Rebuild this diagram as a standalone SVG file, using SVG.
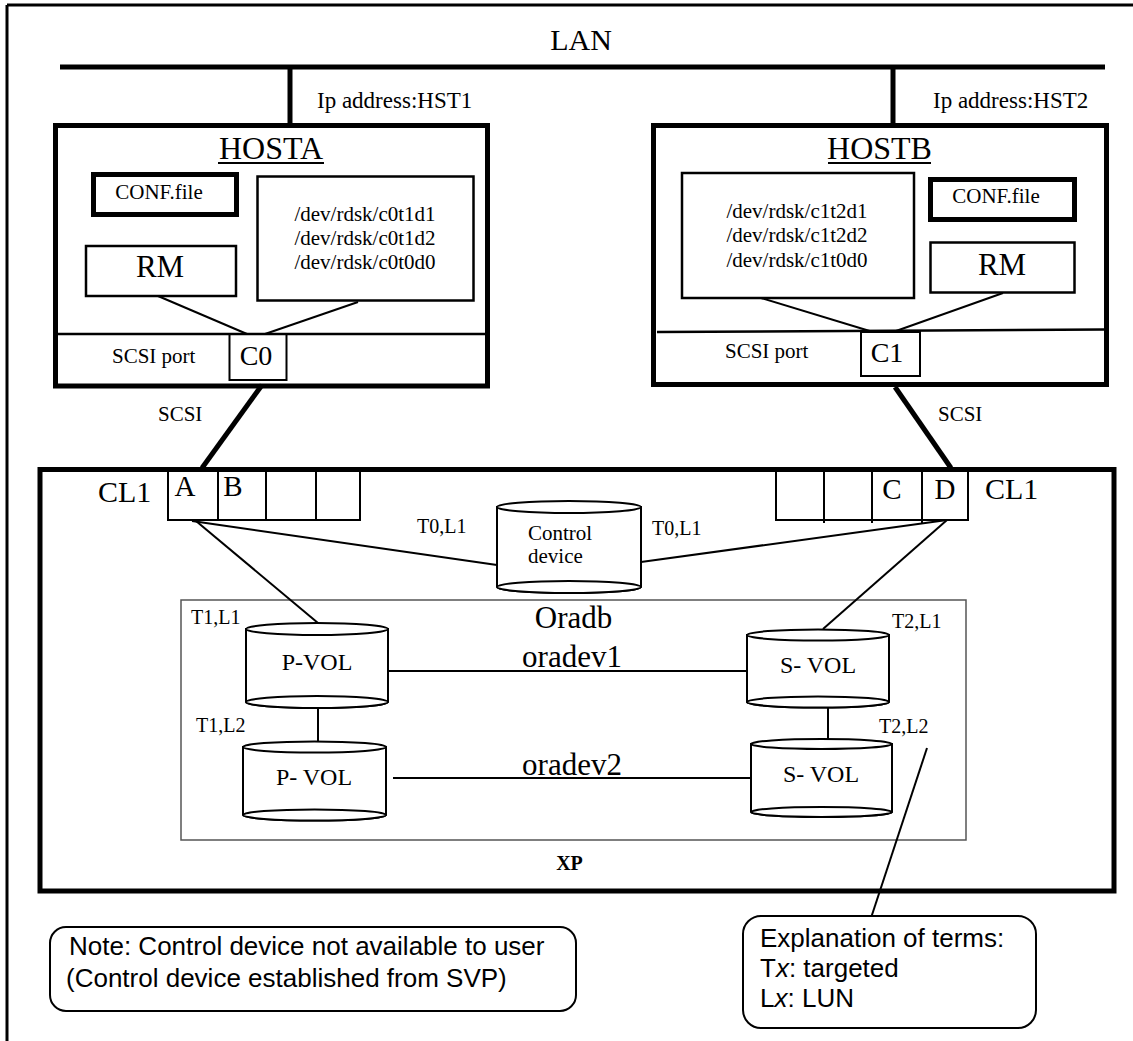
<svg xmlns="http://www.w3.org/2000/svg" width="1133" height="1041" viewBox="0 0 1133 1041">
  <style>
    .serif { font-family: "Liberation Serif", "Times New Roman", serif; fill: #000; }
    .sans { font-family: "Liberation Sans", Arial, sans-serif; fill: #000; }
    .mid { text-anchor: middle; }
    .thick { fill: none; stroke: #000; stroke-width: 5; }
    .box { fill: #fff; stroke: #000; stroke-width: 2.5; }
    .thin { fill: none; stroke: #000; stroke-width: 2; }
    .wire { fill: none; stroke: #000; stroke-width: 2; }
    .drum { fill: #fff; stroke: #000; stroke-width: 2; }
    .group-box { fill: none; stroke: #555; stroke-width: 1.5; }
    .note { fill: #fff; stroke: #000; stroke-width: 2; }
  </style>

  <rect x="0" y="0" width="1133" height="1041" fill="#fff"/>

  <!-- page frame (top and left rule) -->
  <g id="frame">
    <line x1="7" y1="5" x2="1133" y2="5" stroke="#000" stroke-width="3"/>
    <line x1="7" y1="5" x2="7" y2="1041" stroke="#000" stroke-width="3"/>
  </g>

  <!-- LAN backbone -->
  <g id="lan">
    <line x1="60" y1="67" x2="1105" y2="67" stroke="#000" stroke-width="5"/>
    <text class="serif mid" x="581" y="50" font-size="30">LAN</text>
  </g>

  <!-- HOSTA -->
  <g id="hosta">
    <rect class="thick" x="55.5" y="125.5" width="432" height="260.5"/>
    <text class="serif mid" x="271" y="159" font-size="32">HOSTA</text>
    <line x1="218" y1="163" x2="324" y2="163" stroke="#000" stroke-width="2"/>
    <rect class="thick" x="93.5" y="174.5" width="143" height="40"/>
    <text class="serif mid" x="159" y="199" font-size="21">CONF.file</text>
    <rect class="box" x="257.5" y="176.5" width="216" height="124"/>
    <text class="serif mid" x="365" y="221" font-size="21">/dev/rdsk/c0t1d1</text>
    <text class="serif mid" x="365" y="245" font-size="21">/dev/rdsk/c0t1d2</text>
    <text class="serif mid" x="365" y="269" font-size="21">/dev/rdsk/c0t0d0</text>
    <rect class="box" x="86" y="246" width="150" height="50"/>
    <text class="serif mid" x="160" y="277" font-size="31">RM</text>
    <line x1="58" y1="334" x2="485" y2="334" stroke="#000" stroke-width="2.5"/>
    <text class="serif" x="112" y="363" font-size="21">SCSI port</text>
    <rect class="thin" x="229.5" y="334" width="57" height="46"/>
    <text class="serif mid" x="256" y="365" font-size="28">C0</text>
  </g>

  <!-- HOSTB -->
  <g id="hostb">
    <rect class="thick" x="653.5" y="125.5" width="453" height="259"/>
    <text class="serif mid" x="879.5" y="159" font-size="32">HOSTB</text>
    <line x1="828" y1="163" x2="931" y2="163" stroke="#000" stroke-width="2"/>
    <rect class="box" x="682" y="173" width="232" height="125"/>
    <text class="serif mid" x="797" y="218" font-size="21">/dev/rdsk/c1t2d1</text>
    <text class="serif mid" x="797" y="242" font-size="21">/dev/rdsk/c1t2d2</text>
    <text class="serif mid" x="797" y="267" font-size="21">/dev/rdsk/c1t0d0</text>
    <rect class="thick" x="930.5" y="179.5" width="144" height="40"/>
    <text class="serif mid" x="996" y="203" font-size="21">CONF.file</text>
    <rect class="box" x="930.5" y="242.5" width="144" height="50"/>
    <text class="serif mid" x="1002" y="275" font-size="31">RM</text>
    <line x1="657" y1="332" x2="1104" y2="329.5" stroke="#000" stroke-width="2.5"/>
    <text class="serif" x="725" y="358" font-size="21">SCSI port</text>
    <rect class="thin" x="861" y="332" width="59" height="44"/>
    <text class="serif mid" x="887" y="362" font-size="28">C1</text>
  </g>

  <!-- XP storage frame -->
  <g id="xp">
    <rect class="thick" x="40" y="469.5" width="1074" height="421.5"/>
    <text class="serif mid" x="569.5" y="870" font-size="20" font-weight="bold">XP</text>
  </g>

  <!-- left port block CL1 -->
  <g id="ports-left">
    <rect class="thin" x="168" y="469.5" width="192" height="50.5"/>
    <line class="thin" x1="218" y1="469.5" x2="218" y2="520"/>
    <line class="thin" x1="266" y1="469.5" x2="266" y2="520"/>
    <line class="thin" x1="316" y1="469.5" x2="316" y2="520"/>
    <text class="serif" x="98" y="502" font-size="30">CL1</text>
    <text class="serif mid" x="185" y="496" font-size="29">A</text>
    <text class="serif mid" x="233" y="496" font-size="29">B</text>
  </g>

  <!-- right port block CL1 -->
  <g id="ports-right">
    <rect class="thin" x="776" y="469.5" width="192" height="50.5"/>
    <line class="thin" x1="824" y1="469.5" x2="824" y2="523"/>
    <line class="thin" x1="872" y1="469.5" x2="872" y2="523"/>
    <line class="thin" x1="922" y1="469.5" x2="922" y2="523"/>
    <text class="serif mid" x="892" y="499" font-size="29">C</text>
    <text class="serif mid" x="945" y="499" font-size="29">D</text>
    <text class="serif" x="985" y="499" font-size="30">CL1</text>
  </g>

  <!-- Oradb group -->
  <g id="oradb">
    <rect class="group-box" x="181" y="600" width="785" height="240"/>
    <text class="serif mid" x="573.5" y="628" font-size="31">Oradb</text>
  </g>

  <!-- connectors -->
  <g id="connectors">
    <line x1="290" y1="67" x2="290" y2="125" stroke="#000" stroke-width="5"/>
    <line x1="893" y1="67" x2="893" y2="125" stroke="#000" stroke-width="5"/>
    <line class="wire" x1="158" y1="296" x2="247" y2="334"/>
    <line class="wire" x1="358" y1="302" x2="265" y2="334"/>
    <line class="wire" x1="761" y1="298" x2="873" y2="332"/>
    <line class="wire" x1="1003" y1="293" x2="896" y2="331"/>
    <line x1="262" y1="385" x2="202" y2="468" stroke="#000" stroke-width="5"/>
    <line x1="895" y1="387" x2="951" y2="468" stroke="#000" stroke-width="5"/>
    <line class="wire" x1="192" y1="521" x2="497" y2="565"/>
    <line class="wire" x1="196" y1="521" x2="318" y2="623"/>
    <line class="wire" x1="947" y1="520" x2="641" y2="562"/>
    <line class="wire" x1="947" y1="520" x2="823" y2="629"/>
    <line class="wire" x1="388" y1="671" x2="747" y2="671"/>
    <line class="wire" x1="393" y1="778" x2="751" y2="778"/>
    <line class="wire" x1="318" y1="708" x2="318" y2="742"/>
    <line class="wire" x1="828" y1="708" x2="828" y2="739"/>
    <line class="wire" x1="927" y1="748" x2="870" y2="921"/>
  </g>

  <!-- control device -->
  <g id="control-device">
    <path class="drum" d="M497 507 V587 A72 6 0 0 0 641 587 V507 Z"/>
    <ellipse class="drum" cx="569" cy="507" rx="72" ry="6"/>
    <ellipse class="drum" cx="569" cy="587" rx="72" ry="6"/>
    <text class="serif" x="528" y="540" font-size="21">Control</text>
    <text class="serif" x="528" y="563" font-size="21">device</text>
  </g>

  <!-- primary volumes -->
  <g id="pvol1">
    <path class="drum" d="M246 629 V702 A71 6 0 0 0 388 702 V629 Z"/>
    <ellipse class="drum" cx="317" cy="629" rx="71" ry="6"/>
    <ellipse class="drum" cx="317" cy="702" rx="71" ry="6"/>
    <text class="serif mid" x="317" y="670" font-size="24">P-VOL</text>
  </g>
  <g id="pvol2">
    <path class="drum" d="M243 747 V815 A71.5 5.5 0 0 0 386 815 V747 Z"/>
    <ellipse class="drum" cx="314.5" cy="747" rx="71.5" ry="5.5"/>
    <ellipse class="drum" cx="314.5" cy="815" rx="71.5" ry="5.5"/>
    <text class="serif mid" x="314" y="785" font-size="24">P- VOL</text>
  </g>

  <!-- secondary volumes -->
  <g id="svol1">
    <path class="drum" d="M747 635 V702 A71 5.5 0 0 0 889 702 V635 Z"/>
    <ellipse class="drum" cx="818" cy="635" rx="71" ry="5.5"/>
    <ellipse class="drum" cx="818" cy="702" rx="71" ry="5.5"/>
    <text class="serif mid" x="818" y="673" font-size="24">S- VOL</text>
  </g>
  <g id="svol2">
    <path class="drum" d="M751 744 V812 A70.5 5 0 0 0 892 812 V744 Z"/>
    <ellipse class="drum" cx="821.5" cy="744" rx="70.5" ry="5"/>
    <ellipse class="drum" cx="821.5" cy="812" rx="70.5" ry="5"/>
    <text class="serif mid" x="821" y="782" font-size="24">S- VOL</text>
  </g>

  <!-- labels -->
  <g id="labels">
    <text class="serif" x="317" y="108" font-size="23">Ip address:HST1</text>
    <text class="serif" x="933" y="108" font-size="23">Ip address:HST2</text>
    <text class="serif" x="158" y="421" font-size="21">SCSI</text>
    <text class="serif" x="938" y="421" font-size="21">SCSI</text>
    <text class="serif" x="417" y="533" font-size="20">T0,L1</text>
    <text class="serif" x="652" y="535" font-size="20">T0,L1</text>
    <text class="serif" x="191" y="624" font-size="20">T1,L1</text>
    <text class="serif" x="196" y="732" font-size="20">T1,L2</text>
    <text class="serif" x="892" y="628" font-size="20">T2,L1</text>
    <text class="serif" x="879" y="733" font-size="20">T2,L2</text>
    <text class="serif mid" x="572" y="667" font-size="31">oradev1</text>
    <text class="serif mid" x="572" y="775" font-size="31">oradev2</text>
  </g>

  <!-- note box -->
  <g id="note">
    <rect class="note" x="50" y="927" width="526" height="84" rx="16" ry="16"/>
    <text class="sans" x="69" y="955" font-size="26">Note: Control device not available to user</text>
    <text class="sans" x="66" y="987" font-size="26">(Control device established from SVP)</text>
  </g>

  <!-- explanation box -->
  <g id="explanation">
    <rect class="note" x="743" y="916" width="293" height="112" rx="18" ry="18"/>
    <text class="sans" x="760" y="947" font-size="26">Explanation of terms:</text>
    <text class="sans" x="760" y="977" font-size="26">T<tspan font-style="italic">x</tspan>: targeted</text>
    <text class="sans" x="760" y="1007" font-size="26">L<tspan font-style="italic">x</tspan>: LUN</text>
  </g>
</svg>
